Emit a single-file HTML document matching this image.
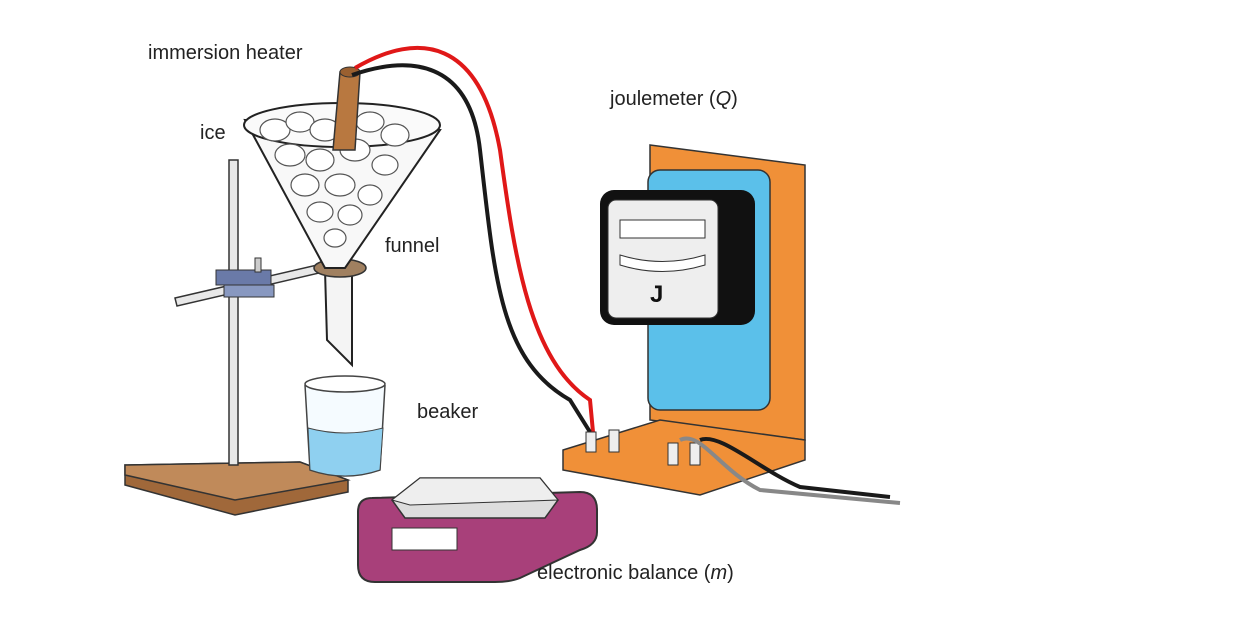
<!DOCTYPE html>
<html><head><meta charset="utf-8"><style>
html,body{margin:0;padding:0;background:#fff;width:1248px;height:617px;overflow:hidden}
text{font-family:"Liberation Sans",sans-serif;font-size:20px;fill:#222}
</style></head><body>
<svg width="1248" height="617" viewBox="0 0 1248 617" xmlns="http://www.w3.org/2000/svg">
<polygon points="125,465 300,462 348,480 348,492 235,515 125,485" fill="#a0683a" stroke="#333" stroke-width="1.5"/>
<polygon points="125,465 300,462 348,480 235,500 125,475" fill="#c08a5a" stroke="#333" stroke-width="1.5"/>
<rect x="229" y="160" width="9" height="305" fill="#e8e8e8" stroke="#333" stroke-width="1.5"/>
<polygon points="175,298 330,262 332,270 177,306" fill="#e8e8e8" stroke="#333" stroke-width="1.5"/>
<rect x="216" y="270" width="55" height="15" fill="#6a7aa8" stroke="#333"/>
<rect x="224" y="285" width="50" height="12" fill="#8898c0" stroke="#333"/>
<rect x="255" y="258" width="6" height="14" fill="#ccc" stroke="#333"/>
<polygon points="325,270 352,270 352,365 327,340" fill="#f4f4f4" stroke="#222" stroke-width="2"/>
<ellipse cx="340" cy="268" rx="26" ry="9" fill="#a08060" stroke="#333" stroke-width="1.5"/>
<polygon points="245,120 440,130 345,268 325,268" fill="#f8f8f8" stroke="#222" stroke-width="2"/>
<ellipse cx="342" cy="125" rx="98" ry="22" fill="#fafafa" stroke="#222" stroke-width="2"/>
<g fill="#fff" stroke="#555" stroke-width="1.2">
<ellipse cx="275" cy="130" rx="15" ry="11"/><ellipse cx="300" cy="122" rx="14" ry="10"/>
<ellipse cx="325" cy="130" rx="15" ry="11"/><ellipse cx="370" cy="122" rx="14" ry="10"/>
<ellipse cx="395" cy="135" rx="14" ry="11"/><ellipse cx="290" cy="155" rx="15" ry="11"/>
<ellipse cx="320" cy="160" rx="14" ry="11"/><ellipse cx="355" cy="150" rx="15" ry="11"/>
<ellipse cx="385" cy="165" rx="13" ry="10"/><ellipse cx="305" cy="185" rx="14" ry="11"/>
<ellipse cx="340" cy="185" rx="15" ry="11"/><ellipse cx="370" cy="195" rx="12" ry="10"/>
<ellipse cx="320" cy="212" rx="13" ry="10"/><ellipse cx="350" cy="215" rx="12" ry="10"/>
<ellipse cx="335" cy="238" rx="11" ry="9"/>
</g>
<polygon points="340,72 360,72 355,150 333,150" fill="#b87840" stroke="#333" stroke-width="1.5"/>
<ellipse cx="350" cy="72" rx="10" ry="5" fill="#9a6030" stroke="#333"/>
<path d="M355,68 C420,30 480,40 500,150 C515,260 530,360 590,400 L593,432" fill="none" stroke="#e01818" stroke-width="4"/>
<path d="M352,75 C410,55 470,60 480,150 C495,280 500,360 570,400 L590,432" fill="none" stroke="#1a1a1a" stroke-width="4"/>
<path d="M305,385 L310,470 Q345,482 380,470 L385,385" fill="#f5fbff" stroke="#444" stroke-width="1.5"/>
<path d="M308,428 Q345,438 383,428 L380,470 Q345,482 310,470 Z" fill="#8fd0f0" stroke="#444" stroke-width="1"/>
<ellipse cx="345" cy="384" rx="40" ry="8" fill="#fff" stroke="#444" stroke-width="1.5"/>
<!-- balance -->
<path d="M372,498 L580,492 Q597,492 597,510 L597,532 Q597,545 580,550 L520,578 Q510,582 495,582 L375,582 Q358,582 358,565 L358,512 Q358,498 372,498 Z" fill="#a8407a" stroke="#333" stroke-width="2"/>
<rect x="392" y="528" width="65" height="22" fill="#fff" stroke="#333"/>
<polygon points="392,500 420,478 540,478 558,500 545,518 405,518" fill="#ddd" stroke="#333" stroke-width="1.5"/>
<polygon points="392,500 420,478 540,478 558,500 410,505" fill="#eee" stroke="#333" stroke-width="1"/>
<!-- joulemeter -->
<polygon points="650,145 805,165 805,440 650,420" fill="#f09038" stroke="#333" stroke-width="1.5"/>
<polygon points="563,450 660,420 805,440 805,460 700,495 563,470" fill="#f09038" stroke="#333" stroke-width="1.5"/>
<rect x="648" y="170" width="122" height="240" rx="12" fill="#5bc0ea" stroke="#333" stroke-width="1.5"/>
<rect x="600" y="190" width="155" height="135" rx="14" fill="#111"/>
<rect x="608" y="200" width="110" height="118" rx="8" fill="#eee" stroke="#333"/>
<rect x="620" y="220" width="85" height="18" fill="#fff" stroke="#333"/>
<path d="M620,255 Q662,268 705,255 L705,265 Q662,278 620,265 Z" fill="#fff" stroke="#333"/>
<text x="650" y="302" style="font-size:24px;font-weight:bold;fill:#111">J</text>
<g stroke="#333" fill="#eee"><rect x="586" y="432" width="10" height="20"/><rect x="609" y="430" width="10" height="22"/><rect x="668" y="443" width="10" height="22"/><rect x="690" y="443" width="10" height="22"/></g>
<path d="M680,440 C700,430 720,470 760,490 L900,503" fill="none" stroke="#888" stroke-width="4"/>
<path d="M700,440 C720,432 760,470 800,487 L890,497" fill="none" stroke="#1a1a1a" stroke-width="4"/>
<text x="148" y="59">immersion heater</text>
<text x="200" y="139">ice</text>
<text x="385" y="252">funnel</text>
<text x="417" y="418">beaker</text>
<text x="610" y="105">joulemeter (<tspan font-style="italic">Q</tspan>)</text>
<text x="537" y="579">electronic balance (<tspan font-style="italic">m</tspan>)</text>
</svg>
</body></html>
